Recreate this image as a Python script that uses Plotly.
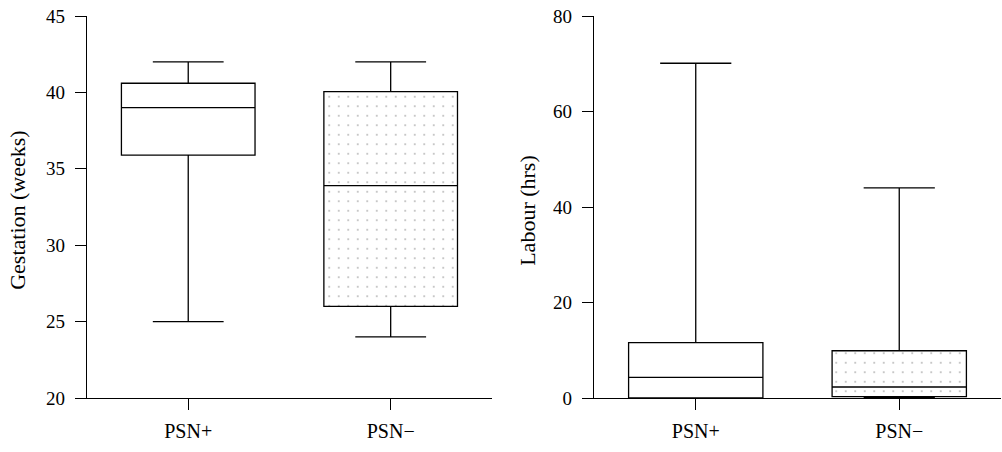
import plotly.graph_objects as go
from plotly.subplots import make_subplots

categories = ["PSN+", "PSN\u2212"]

# Gestation (weeks)
gest_lower = [25.0, 24.0]
gest_q1 = [35.9, 26.0]
gest_median = [39.0, 33.9]
gest_q3 = [40.6, 40.05]
gest_upper = [42.0, 42.0]

# Labour (hrs)
lab_lower = [0.0, 0.0]
lab_q1 = [0.0, 0.3]
lab_median = [4.3, 2.3]
lab_q3 = [11.6, 9.9]
lab_upper = [70.1, 44.0]

gest_ticks = [20, 25, 30, 35, 40, 45]
lab_ticks = [0, 20, 40, 60, 80]

FONT = "Liberation Serif"
BOX_W = 0.66

fig = make_subplots(rows=1, cols=2)

def add_panel(col, lower, q1, med, q3, upper):
    # dotted pattern fill for PSN− box
    fig.add_trace(go.Bar(
        x=[categories[1]], y=[q3[1] - q1[1]], base=[q1[1]],
        width=BOX_W,
        marker=dict(color="rgba(255,255,255,0)", line=dict(width=0),
                    pattern=dict(shape=".", size=9.5, solidity=0.02,
                                 fgcolor="#000000", bgcolor="rgba(255,255,255,0)")),
        showlegend=False, hoverinfo="skip"), row=1, col=col)
    fig.add_trace(go.Box(
        x=categories, q1=q1, median=med, q3=q3,
        lowerfence=lower, upperfence=upper,
        width=BOX_W,
        fillcolor="rgba(0,0,0,0)",
        line=dict(color="black", width=1.3),
        whiskerwidth=0.53, boxpoints=False,
        showlegend=False), row=1, col=col)

add_panel(1, gest_lower, gest_q1, gest_median, gest_q3, gest_upper)
add_panel(2, lab_lower, lab_q1, lab_median, lab_q3, lab_upper)

fig.update_layout(
    width=1002, height=452,
    margin=dict(l=87, r=1, t=16, b=54),
    plot_bgcolor="white", paper_bgcolor="white",
    font=dict(family=FONT, size=19, color="black"),
    showlegend=False,
)

axis_common = dict(showgrid=False, zeroline=False, showline=True,
                   linecolor="black", linewidth=1.2, ticks="outside",
                   ticklen=11, tickwidth=1.2, tickcolor="black")

fig.update_xaxes(**axis_common, range=[-0.5, 1.5],
                 categoryorder="array", categoryarray=categories,
                 tickfont=dict(family=FONT, size=20, color="black"),
                 ticklabelstandoff=4)
fig.update_xaxes(domain=[0, 0.443], row=1, col=1)
fig.update_xaxes(domain=[0.5547, 1.0], row=1, col=2)

fig.update_yaxes(**axis_common,
                 tickfont=dict(family=FONT, size=19, color="black"),
                 ticklabelstandoff=6)
fig.update_yaxes(range=[20, 45], tickvals=gest_ticks, row=1, col=1)
fig.update_yaxes(range=[0, 80], tickvals=lab_ticks, row=1, col=2)

# axis titles
fig.add_annotation(text="Gestation (weeks)", textangle=-90, showarrow=False,
                   xref="paper", yref="paper", x=(18 - 87) / 914, y=0.49,
                   xanchor="center", yanchor="middle",
                   font=dict(family=FONT, size=22, color="black"))
fig.add_annotation(text="Labour (hrs)", textangle=-90, showarrow=False,
                   xref="paper", yref="paper", x=(528 - 87) / 914, y=0.49,
                   xanchor="center", yanchor="middle",
                   font=dict(family=FONT, size=22, color="black"))

fig.write_html("out.html", config={"displayModeBar": False},
               post_script="document.body.style.margin='0';")
